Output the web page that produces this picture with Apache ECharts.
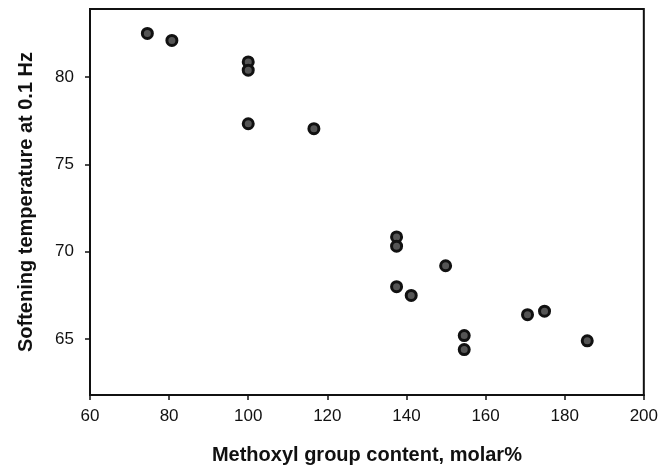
<!DOCTYPE html>
<html>
<head>
<meta charset="utf-8">
<script src="https://cdn.jsdelivr.net/npm/echarts@6/dist/echarts.min.js"></script>
<style>
  html, body { margin: 0; padding: 0; background: #fff; }
  #chart { width: 661px; height: 470px; }
</style>
</head>
<body>
<div id="chart"></div>
<script>
// methoxyl content (molar%) vs softening temperature
var methoxyl = [74.5, 80.7, 100, 100, 100, 116.6, 137.5, 137.5, 137.5, 141.2, 149.9, 154.6, 154.6, 170.6, 174.9, 185.7];
var softening = [82.5, 82.1, 80.87, 80.4, 77.33, 77.05, 70.85, 70.32, 68.0, 67.5, 69.2, 65.2, 64.4, 66.4, 66.6, 64.9];
var xTicks = [60, 80, 100, 120, 140, 160, 180, 200];
var yTicks = [65, 70, 75, 80];

var points = methoxyl.map(function (x, i) {
  return [x, softening[i]];
});

var font = "'Liberation Sans', Arial, sans-serif";

var myChart = echarts.init(document.getElementById("chart"));
var option = {
  animation: false,
  grid: {
    left: 90,
    right: 15,
    top: 9,
    bottom: 72,
    show: true,
    borderColor: "#111",
    borderWidth: 2,
  },
  xAxis: {
    type: "value",
    min: 60,
    max: 200,
    interval: 20,
    name: "Methoxyl group content, molar%",
    nameLocation: "middle",
    nameGap: 50,
    nameTextStyle: { fontFamily: font, fontSize: 20, fontWeight: "bold", color: "#111" },
    axisLine: { lineStyle: { color: "#111", width: 2 } },
    axisTick: { show: true, inside: false, length: 5, lineStyle: { color: "#111", width: 1.5 } },
    axisLabel: { fontFamily: font, fontSize: 17, color: "#111", margin: 13 },
    splitLine: { show: false },
  },
  yAxis: {
    type: "value",
    min: 61.8,
    max: 83.9,
    name: "Softening temperature at 0.1 Hz",
    nameLocation: "middle",
    nameGap: 54,
    nameTextStyle: { fontFamily: font, fontSize: 20, fontWeight: "bold", color: "#111" },
    axisLine: { lineStyle: { color: "#111", width: 2 } },
    axisTick: { show: true, length: 5, customValues: yTicks, lineStyle: { color: "#111", width: 1.5 } },
    axisLabel: { fontFamily: font, fontSize: 17, color: "#111", margin: 16, customValues: yTicks },
    splitLine: { show: false },
  },
  series: [
    {
      type: "scatter",
      data: points,
      symbol: "circle",
      symbolSize: 10,
      itemStyle: { color: "#555", borderColor: "#111", borderWidth: 3, opacity: 1 },
    },
  ],
};
myChart.setOption(option);
</script>
</body>
</html>
